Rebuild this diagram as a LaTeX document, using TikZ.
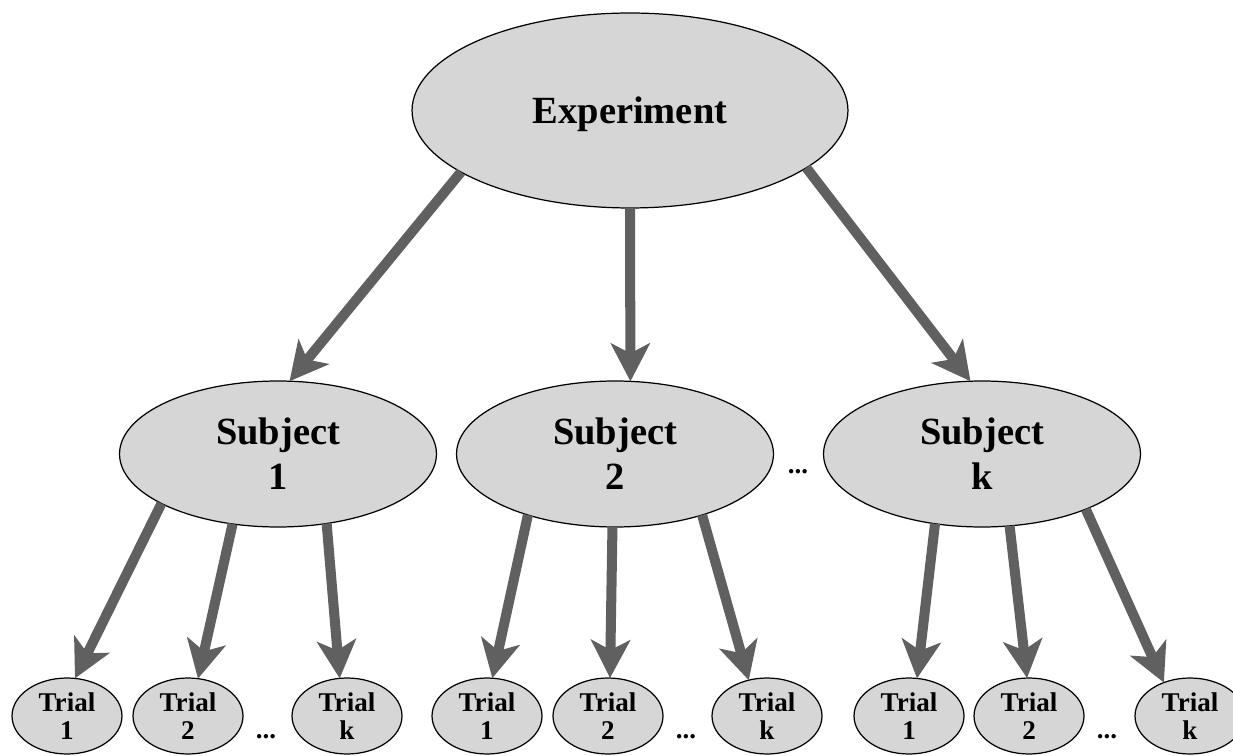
\documentclass[tikz,border=0pt]{standalone}
\usepackage{fontspec}
\setmainfont{Liberation Serif}
\usetikzlibrary{shapes.geometric,arrows.meta}
\definecolor{nodefill}{HTML}{D6D6D6}
\definecolor{arrowgray}{HTML}{606060}
\tikzset{
  ell/.style={ellipse, draw=black, line width=0.7pt, fill=nodefill, inner sep=0pt, outer sep=0pt, align=center},
  topnode/.style={ell, minimum width=8.72cm, minimum height=3.9cm, text depth=0pt, font=\bfseries\fontsize{21.9}{25.6}\selectfont},
  subjnode/.style={ell, minimum width=6.34cm, minimum height=2.92cm, font=\bfseries\fontsize{21.9}{25.6}\selectfont},
  trialnode/.style={ell, minimum width=2.2cm, minimum height=1.52cm, font=\bfseries\fontsize{15.4}{16}\selectfont},
  dotsnode/.style={inner sep=0pt, font=\bfseries\fontsize{15.4}{16}\selectfont},
  conn/.style={draw=arrowgray, line width=5.7pt, -{Stealth[length=0.76cm,width=0.78cm,inset=0.2cm]}}
}
\begin{document}
\begin{tikzpicture}[x=0.02cm,y=-0.02cm]
\clip (0,0) rectangle (1233,756);
\fill[white] (0,0) rectangle (1233,756);

\node[topnode] (exp) at (630,110.5) {Experiment};

\node[subjnode] (s1) at (278,454) {Subject\\1};
\node[subjnode] (s2) at (615,454) {Subject\\2};
\node[subjnode] (sk) at (982,454) {Subject\\k};
\node[dotsnode] (sd) at (798,472) {...};

\node[trialnode] (t11) at (67,716) {Trial\\1};
\node[trialnode] (t12) at (188,716) {Trial\\2};
\node[dotsnode] (d1) at (266,737) {...};
\node[trialnode] (t1k) at (347,716) {Trial\\k};

\node[trialnode] (t21) at (487,716) {Trial\\1};
\node[trialnode] (t22) at (608,716) {Trial\\2};
\node[dotsnode] (d2) at (686,737) {...};
\node[trialnode] (t2k) at (767,716) {Trial\\k};

\node[trialnode] (t31) at (909,716) {Trial\\1};
\node[trialnode] (t32) at (1029,716) {Trial\\2};
\node[dotsnode] (d3) at (1107,737) {...};
\node[trialnode] (t3k) at (1190,716) {Trial\\k};

\draw[conn] (exp.200) -- (s1.81.3);
\draw[conn] (exp.270) -- (s2.78.5);
\draw[conn] (exp.342.4) -- (sk.99.6);

\draw[conn] (s1.203.4) -- (t11.78.4);
\draw[conn] (s1.237.6) -- (t12.75.3);
\draw[conn] (s1.305.4) -- (t1k.101.9);

\draw[conn] (s2.215.7) -- (t21.82.5);
\draw[conn] (s2.268.4) -- (t22.87);
\draw[conn] (s2.325) -- (t2k.117.8);

\draw[conn] (sk.236.5) -- (t31.78);
\draw[conn] (sk.291.9) -- (t32.93);
\draw[conn] (sk.332.2) -- (t3k.128.5);
\end{tikzpicture}
\end{document}
